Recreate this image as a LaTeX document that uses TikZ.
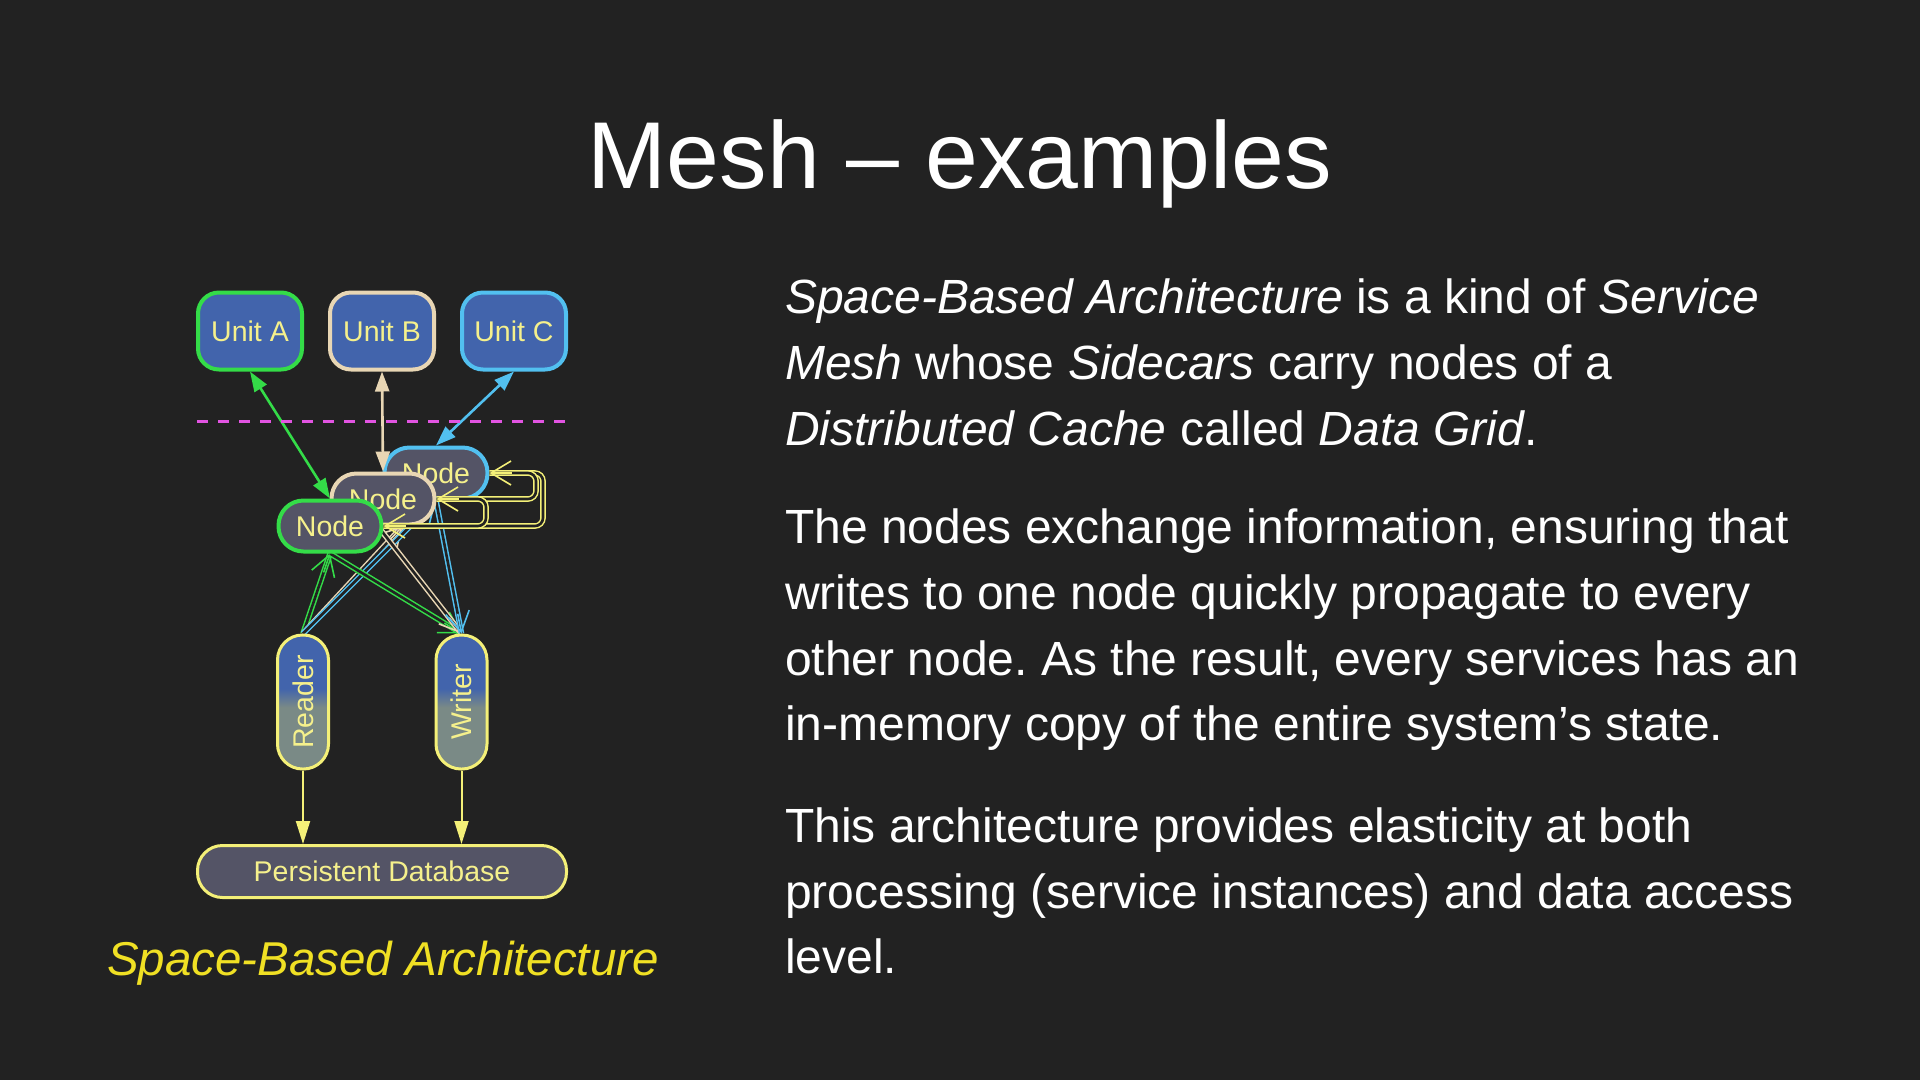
\documentclass[tikz,border=0pt]{standalone}
\usepackage{graphicx}
\usepackage{fontspec}
\setmainfont{Liberation Sans}
\usetikzlibrary{arrows.meta,calc,backgrounds}
\frenchspacing

\definecolor{bgc}{RGB}{34,34,34}
\definecolor{unitblue}{RGB}{66,100,172}
\definecolor{nodegray}{RGB}{84,84,102}
\definecolor{rwgray}{RGB}{122,138,134}
\definecolor{ltext}{RGB}{245,240,140}
\definecolor{cgreen}{RGB}{52,220,72}
\definecolor{cbeige}{RGB}{232,214,180}
\definecolor{cblue}{RGB}{82,192,240}
\definecolor{cyellow}{RGB}{244,240,120}
\definecolor{cmagenta}{RGB}{226,84,226}
\definecolor{captiony}{RGB}{240,224,36}

\pgfdeclareverticalshading{rwshade}{100bp}{color(0bp)=(rwgray); color(48bp)=(rwgray); color(55bp)=(unitblue); color(100bp)=(unitblue)}

\begin{document}
\begin{tikzpicture}[x=1pt,y=-1pt,
  label font/.style={font=\fontsize{28.5}{30}\selectfont},
  unitbox/.style={draw=#1,line width=4pt,fill=unitblue,rounded corners=21pt,minimum width=104pt,minimum height=77pt,text=ltext,label font,inner sep=0pt},
  meshnode/.style={draw=#1,line width=4pt,fill=nodegray,rounded corners=25pt,minimum width=103pt,minimum height=51pt,text=ltext,label font,inner sep=0pt},
  rwbox/.style={draw=cyellow,line width=3pt,shade,shading=rwshade,rounded corners=25pt,minimum width=51pt,minimum height=134pt,text=ltext,label font,inner sep=0pt},
  dbbox/.style={draw=cyellow,line width=3pt,fill=nodegray,rounded corners=25pt,minimum width=369pt,minimum height=52pt,text=ltext,label font,inner sep=0pt},
  sync/.style={draw=#1,line width=2.6pt,{Triangle[length=20pt,width=14pt]}-{Triangle[length=20pt,width=14pt]}},
  dbl/.style={draw=#1,line width=1.5pt,double=bgc,double distance=2.6pt},
  vee/.style={draw=#1,line width=1.6pt,-{Straight Barb[length=20pt,width=24pt]}},
  store/.style={draw=cyellow,line width=2pt,-{Triangle[length=23pt,width=14pt]}},
  body/.style={anchor=base west,text=white,font=\fontsize{48}{56}\selectfont,inner sep=0pt}]
\useasboundingbox (0,0) rectangle (1920,1080);

% title and text
\node[anchor=base,text=white,font=\fontsize{95}{100}\selectfont] (title) at (960,188) {Mesh -- examples};
\foreach \y/\txt [count=\i] in {
  313/{\textit{Space-Based Architecture} is a kind of \textit{Service}},
  379/{\textit{Mesh} whose \textit{Sidecars} carry nodes of a},
  445/{\textit{Distributed Cache} called \textit{Data Grid}.},
  543/{The nodes exchange information, ensuring that},
  609/{writes to one node quickly propagate to every},
  675/{other node. As the result, every services has an},
  740/{in-memory copy of the entire system’s state.},
  842/{This architecture provides elasticity at both},
  908/{processing (service instances) and data access},
  973/{level.}} {
  \node[body] (line\i) at (785,\y) {\txt};
}
\node[anchor=base,text=captiony,font=\fontsize{47.5}{52}\selectfont\itshape] (caption) at (383,975) {Space-Based Architecture};

% units
\node[unitbox=cgreen] (unitA) at (250,331) {Unit A};
\node[unitbox=cbeige] (unitB) at (382,331) {Unit B};
\node[unitbox=cblue] (unitC) at (514,331) {Unit C};

% grid nodes, back to front
\node[meshnode=cblue] (nodeC) at (436,473) {Node};
\node[meshnode=cbeige] (nodeB) at (383,499) {Node};
\node[meshnode=cgreen] (nodeA) at (330,526) {Node};

\node[rwbox] (reader) at (303,702) {\rotatebox{90}{Reader}};
\node[rwbox] (writer) at (461.5,702) {\rotatebox{90}{Writer}};
\node[dbbox] (db) at (382,871.5) {Persistent Database};

\begin{pgfonlayer}{background}
\fill[bgc] (0,0) rectangle (1920,1080);
\foreach \a/\b/\c in {reader.north/nodeA.south/cgreen, reader.north/nodeB.-55/cbeige,
    reader.north/nodeC.south/cblue, nodeA.south/writer.north/cgreen,
    nodeB.-100/writer.north/cbeige, nodeC.south/writer.north/cblue} {
  \draw[dbl=\c] (\a) -- (\b);
  \draw[vee=\c] ($(\b)!20pt!(\a)$) -- (\b);
}
\end{pgfonlayer}

% loops between the grid nodes
\coordinate (loopC) at (543,473);
\coordinate (loopCin) at (536,473);
\coordinate (loopB) at (486,526);
\draw[dbl=cyellow,rounded corners=8pt] (nodeA.east) -| (loopC) -- (nodeC.east);
\draw[dbl=cyellow,rounded corners=8pt] (nodeB.east) -| (loopCin) -- (nodeC.east);
\draw[dbl=cyellow,rounded corners=8pt] (nodeB.east) -| (loopB) -- (nodeA.east);
\foreach \n in {nodeA,nodeB,nodeC}
  \draw[vee=cyellow] ($(\n.east)+(22,0)$) -- (\n.east);

% unit links
\draw[sync=cgreen] (unitA.south) -- (nodeA.north);
\draw[sync=cbeige] (unitB.south) -- (nodeB.north);
\draw[sync=cblue] (unitC.south) -- (nodeC.north);

% to database
\draw[store] (reader.south) -- (reader.south |- db.north);
\draw[store] (writer.south) -- (writer.south |- db.north);

% separator
\coordinate (sepL) at (197,421);
\coordinate (sepR) at (567,421);
\draw[cmagenta,line width=3pt,dash pattern=on 11pt off 10pt] (sepL) -- (sepR);
\end{tikzpicture}
\end{document}
